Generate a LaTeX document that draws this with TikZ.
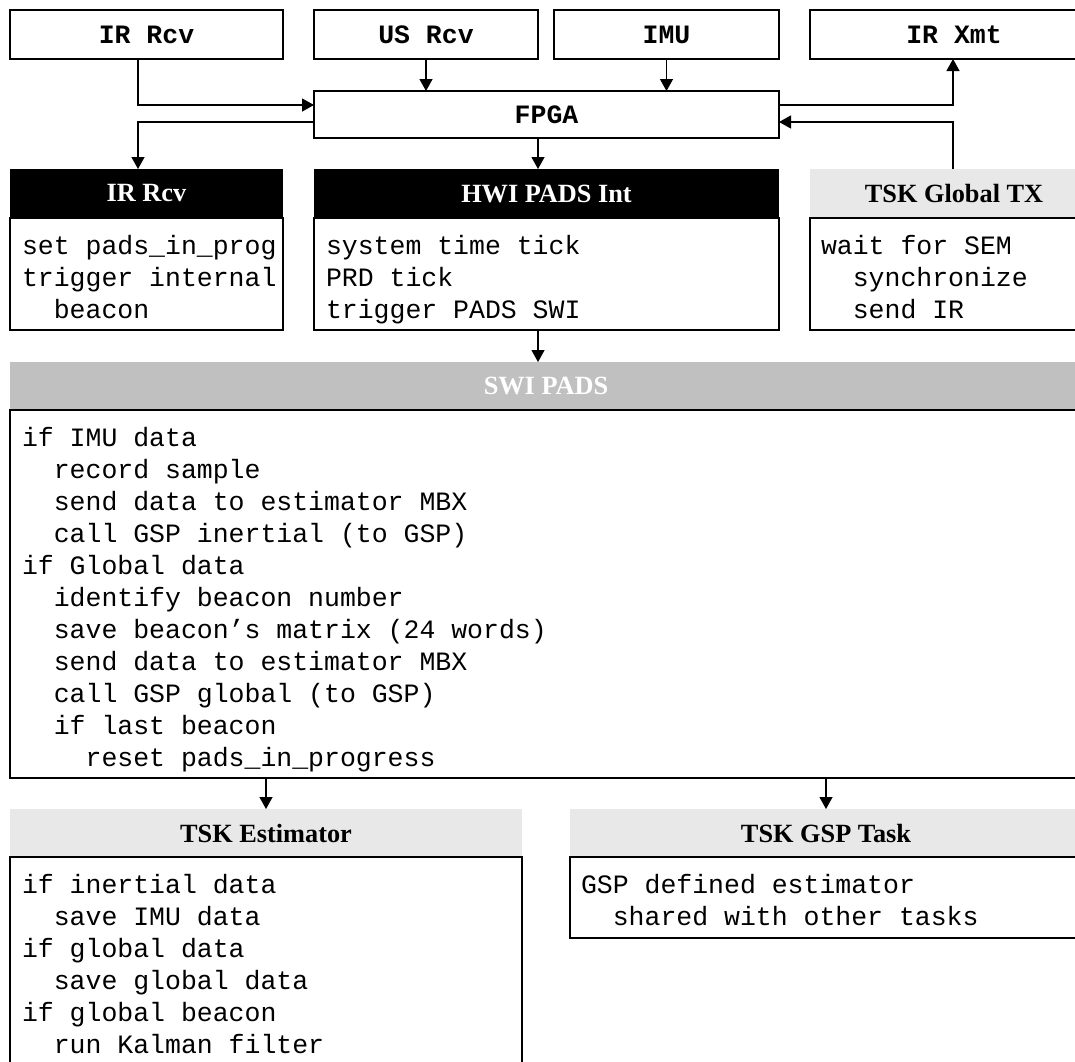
\documentclass[tikz,border=0pt]{standalone}
\usepackage{fontspec}
\setmainfont{Liberation Serif}
\setmonofont{Liberation Mono}
\usetikzlibrary{arrows.meta}

\definecolor{swigray}{HTML}{C0C0C0}
\definecolor{taskgray}{HTML}{E8E8E8}
\newcommand{\ind}{\hspace*{31.8pt}}

\tikzset{
  box/.style={draw, line width=1.6pt, inner sep=0pt, outer sep=0pt, anchor=north west},
  topbox/.style={box, font=\ttfamily\bfseries\fontsize{26.5}{32}\selectfont},
  head/.style={inner sep=0pt, outer sep=0pt, anchor=north west, font=\bfseries\fontsize{26.3}{30}\selectfont},
  darkhead/.style={head, fill=black, text=white},
  swihead/.style={head, fill=swigray, text=white},
  taskhead/.style={head, fill=taskgray},
  code/.style={inner sep=0pt, outer sep=0pt, align=left, anchor=north west, font=\ttfamily\fontsize{26.5}{32}\selectfont},
  arr/.style={-{Triangle[length=12pt,width=13pt]}, line width=1.3pt}
}

\begin{document}
\begin{tikzpicture}[x=1pt, y=-1pt]
  \useasboundingbox (0,0) rectangle (1075,1061);

  % hardware row
  \node[topbox, minimum width=273pt, minimum height=49pt] (irrcv) at (10,10) {IR Rcv};
  \node[topbox, minimum width=224pt, minimum height=49pt] (usrcv) at (314,10) {US Rcv};
  \node[topbox, minimum width=225pt, minimum height=49pt] (imu) at (554,10) {IMU};
  \node[topbox, minimum width=288pt, minimum height=49pt] (irxmt) at (810,10) {IR Xmt};
  \node[topbox, minimum width=465pt, minimum height=47pt] (fpga) at (314,91) {FPGA};

  % interrupt and task row
  \node[darkhead, minimum width=273pt, minimum height=49pt] (irhead) at (10,169) {IR Rcv};
  \node[box, minimum width=273pt, minimum height=112pt] (irbody) at (10,218) {};
  \node[code] (irtext) at ([shift={(12pt,-16pt)}]irbody.north west)
    {\rule{0pt}{20pt}set pads\_in\_prog\\trigger internal\\\ind beacon};

  \node[darkhead, minimum width=465pt, minimum height=49pt] (hwihead) at (314,169) {HWI PADS Int};
  \node[box, minimum width=465pt, minimum height=112pt] (hwibody) at (314,218) {};
  \node[code] (hwitext) at ([shift={(12pt,-16pt)}]hwibody.north west)
    {\rule{0pt}{20pt}system time tick\\PRD tick\\trigger PADS SWI};

  \node[taskhead, minimum width=288pt, minimum height=49pt] (txhead) at (810,169) {TSK Global TX};
  \node[box, minimum width=288pt, minimum height=112pt] (txbody) at (810,218) {};
  \node[code] (txtext) at ([shift={(11pt,-16pt)}]txbody.north west)
    {\rule{0pt}{20pt}wait for SEM\\\ind synchronize\\\ind send IR};

  % software interrupt
  \node[swihead, minimum width=1072pt, minimum height=48pt] (swihead) at (10,362) {SWI PADS};
  \node[box, minimum width=1072pt, minimum height=368pt] (swibody) at (10,410) {};
  \node[code] (switext) at ([shift={(12pt,-16pt)}]swibody.north west)
    {\rule{0pt}{20pt}if IMU data\\
     \ind record sample\\
     \ind send data to estimator MBX\\
     \ind call GSP inertial (to GSP)\\
     if Global data\\
     \ind identify beacon number\\
     \ind save beacon’s matrix (24 words)\\
     \ind send data to estimator MBX\\
     \ind call GSP global (to GSP)\\
     \ind if last beacon\\
     \ind\ind reset pads\_in\_progress};

  % tasks
  \node[taskhead, minimum width=512pt, minimum height=48pt] (esthead) at (10,809) {TSK Estimator};
  \node[box, minimum width=512pt, minimum height=230pt] (estbody) at (10,857) {};
  \node[code] (esttext) at ([shift={(12pt,-16pt)}]estbody.north west)
    {\rule{0pt}{20pt}if inertial data\\
     \ind save IMU data\\
     if global data\\
     \ind save global data\\
     if global beacon\\
     \ind run Kalman filter};

  \node[taskhead, minimum width=512pt, minimum height=48pt] (gsphead) at (570,809) {TSK GSP Task};
  \node[box, minimum width=512pt, minimum height=81pt] (gspbody) at (570,857) {};
  \node[code] (gsptext) at ([shift={(11pt,-16pt)}]gspbody.north west)
    {\rule{0pt}{20pt}GSP defined estimator\\\ind shared with other tasks};

  % connectors
  \coordinate (inA) at (138,105);
  \coordinate (outA) at (138,122);
  \coordinate (outB) at (953,105);
  \coordinate (inB) at (953,122);
  \coordinate (midx) at (538,0);

  \draw[arr] (irrcv.south -| inA) -- (inA) -- (inA -| fpga.west);
  \draw[arr] (usrcv.south) -- (usrcv.south |- fpga.north);
  \draw[arr] (imu.south) -- (imu.south |- fpga.north);
  \draw[arr] (fpga.east |- outB) -- (outB) -- (outB |- irxmt.south);
  \draw[arr] (txhead.north -| inB) -- (inB) -- (inB -| fpga.east);
  \draw[arr] (fpga.west |- outA) -- (outA) -- (outA |- irhead.north);
  \draw[arr] (fpga.south -| midx) -- (hwihead.north -| midx);
  \draw[arr] (hwibody.south -| midx) -- (swihead.north -| midx);
  \draw[arr] (swibody.south -| esthead.north) -- (esthead.north);
  \draw[arr] (swibody.south -| gsphead.north) -- (gsphead.north);
\end{tikzpicture}
\end{document}
